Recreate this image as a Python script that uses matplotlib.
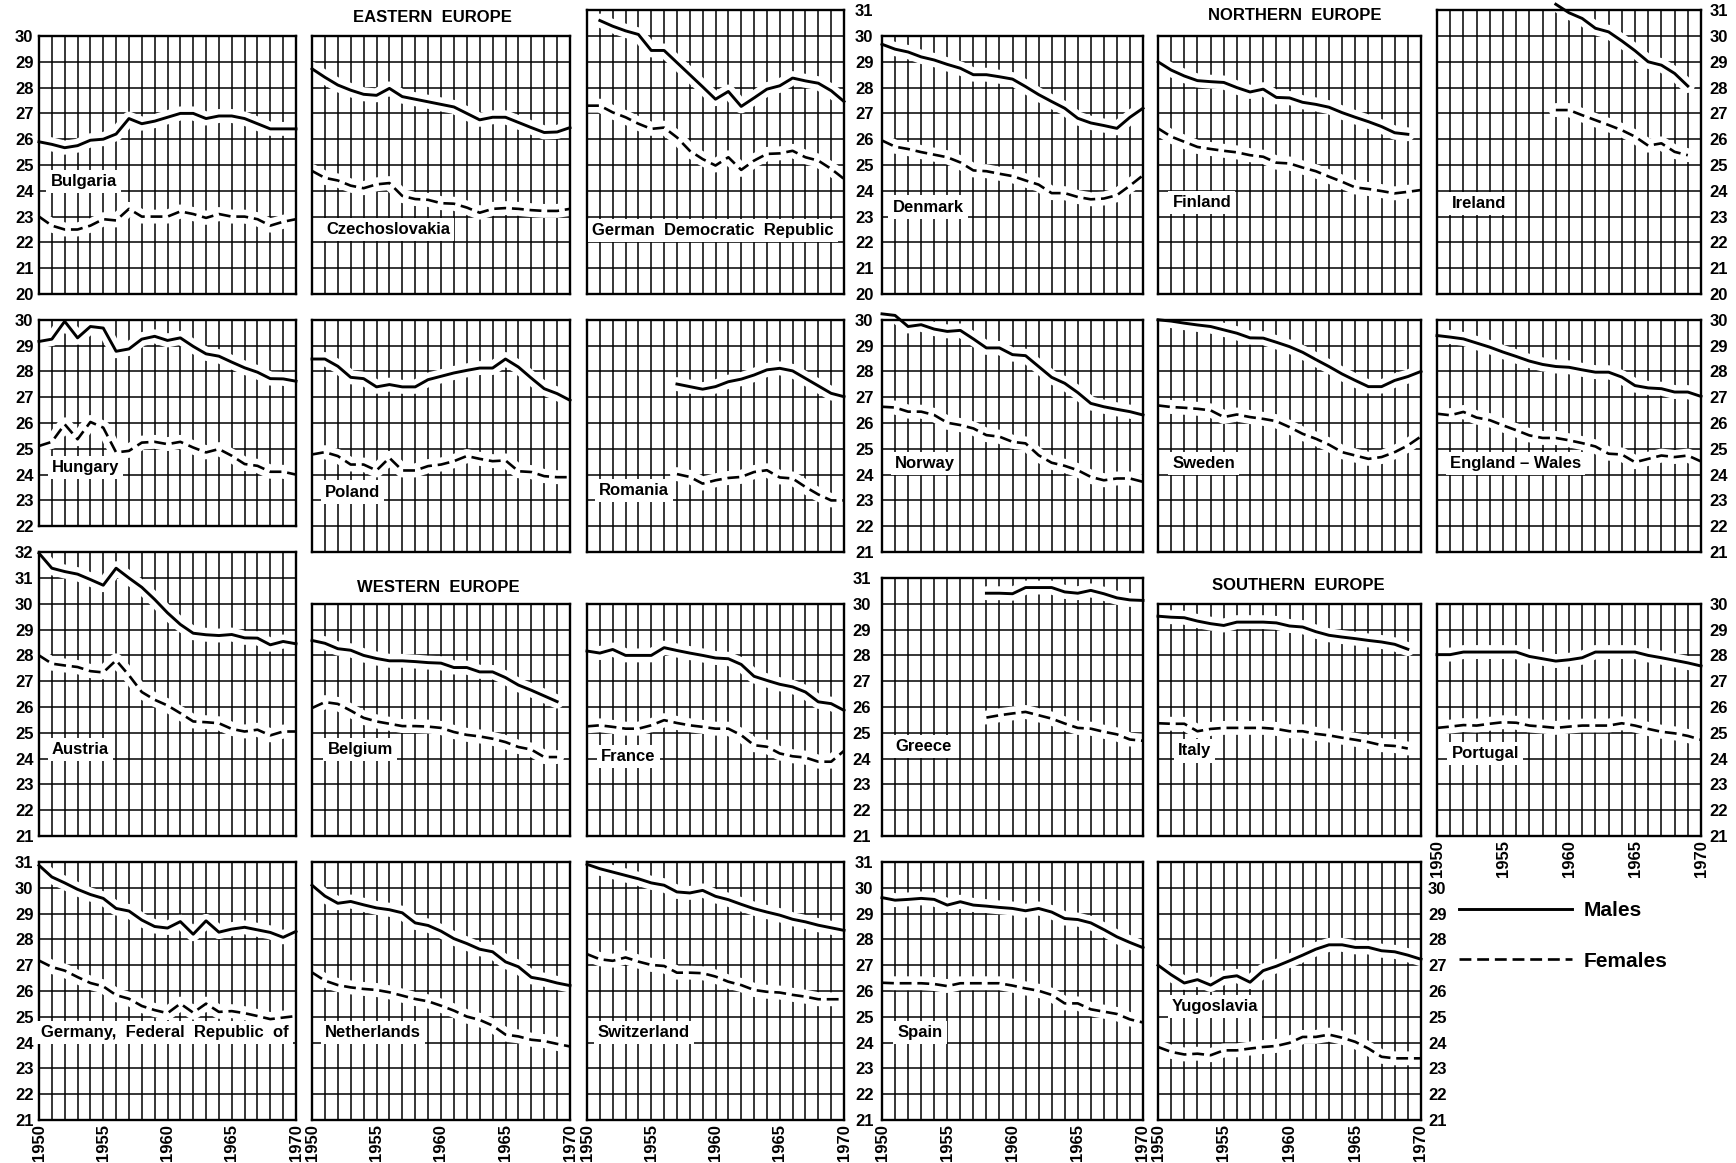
import matplotlib
matplotlib.use("Agg")
import matplotlib.pyplot as plt

plt.rcParams['font.family'] = ['Liberation Sans', 'DejaVu Sans']

nan = float('nan')

# ---------------------------------------------------------------- data
years = list(range(1950, 1971))
year_labels = ['1950', '1955', '1960', '1965', '1970']

bulgaria_m = [25.9, 25.8, 25.67, 25.75, 25.96, 26.0, 26.2, 26.8, 26.6, 26.7, 26.85, 27.0, 27.0, 26.8, 26.9, 26.9, 26.8, 26.6, 26.4, 26.4, 26.4]
bulgaria_f = [23.0, 22.65, 22.5, 22.5, 22.65, 22.9, 22.85, 23.3, 23.0, 23.0, 23.0, 23.2, 23.1, 22.95, 23.1, 23.0, 23.0, 22.9, 22.65, 22.8, 22.9]

czech_m = [28.73, 28.4, 28.1, 27.9, 27.74, 27.7, 27.97, 27.65, 27.55, 27.45, 27.35, 27.25, 27.0, 26.75, 26.85, 26.85, 26.65, 26.45, 26.26, 26.28, 26.45]
czech_f = [24.77, 24.5, 24.4, 24.2, 24.1, 24.25, 24.3, 23.8, 23.68, 23.65, 23.52, 23.5, 23.35, 23.15, 23.3, 23.33, 23.3, 23.25, 23.22, 23.22, 23.3]

gdr_m = [nan, 30.6, 30.38, 30.2, 30.06, 29.44, 29.44, 28.97, 28.5, 28.03, 27.55, 27.85, 27.27, 27.6, 27.94, 28.07, 28.37, 28.26, 28.17, 27.88, 27.46]
gdr_f = [27.3, 27.3, 27.04, 26.85, 26.6, 26.4, 26.45, 26.07, 25.55, 25.23, 24.98, 25.3, 24.81, 25.17, 25.43, 25.45, 25.55, 25.3, 25.17, 24.85, 24.46]

denmark_m = [29.68, 29.49, 29.38, 29.19, 29.07, 28.9, 28.75, 28.5, 28.5, 28.42, 28.33, 28.04, 27.73, 27.46, 27.2, 26.81, 26.63, 26.53, 26.42, 26.85, 27.2]
denmark_f = [25.95, 25.71, 25.62, 25.5, 25.4, 25.3, 25.1, 24.79, 24.76, 24.66, 24.57, 24.4, 24.24, 23.91, 23.91, 23.76, 23.67, 23.7, 23.83, 24.2, 24.6]

finland_m = [29.0, 28.68, 28.45, 28.27, 28.23, 28.2, 28.0, 27.83, 27.94, 27.62, 27.6, 27.43, 27.35, 27.24, 27.03, 26.85, 26.68, 26.49, 26.25, 26.19, nan]
finland_f = [26.42, 26.1, 25.9, 25.7, 25.62, 25.55, 25.49, 25.38, 25.32, 25.09, 25.06, 24.9, 24.76, 24.55, 24.35, 24.13, 24.07, 23.99, 23.9, 23.96, 24.03]

ireland_m = [nan, nan, nan, nan, nan, nan, nan, nan, nan, 31.23, 30.9, 30.68, 30.3, 30.16, 29.81, 29.43, 29.0, 28.87, 28.55, 28.06, nan]
ireland_f = [nan, nan, nan, nan, nan, nan, nan, nan, nan, 27.13, 27.13, 26.93, 26.74, 26.55, 26.35, 26.1, 25.75, 25.84, 25.51, 25.38, nan]

hungary_m = [29.16, 29.25, 29.94, 29.3, 29.74, 29.68, 28.78, 28.87, 29.25, 29.36, 29.2, 29.3, 28.97, 28.68, 28.59, 28.36, 28.14, 27.97, 27.72, 27.71, 27.62]
hungary_f = [25.11, 25.27, 25.95, 25.37, 26.04, 25.82, 24.86, 24.92, 25.24, 25.27, 25.18, 25.27, 25.05, 24.86, 24.99, 24.73, 24.41, 24.34, 24.11, 24.11, 24.0]

poland_m = [28.48, 28.48, 28.2, 27.77, 27.72, 27.4, 27.49, 27.4, 27.4, 27.68, 27.81, 27.94, 28.04, 28.13, 28.13, 28.48, 28.17, 27.74, 27.33, 27.14, 26.88]
poland_f = [24.78, 24.87, 24.72, 24.39, 24.39, 24.16, 24.65, 24.16, 24.16, 24.33, 24.39, 24.52, 24.72, 24.61, 24.52, 24.55, 24.13, 24.1, 23.94, 23.9, 23.9]

romania_m = [nan, nan, nan, nan, nan, nan, nan, 27.51, 27.41, 27.31, 27.41, 27.6, 27.7, 27.86, 28.06, 28.12, 28.02, 27.73, 27.44, 27.15, 27.02]
romania_f = [nan, nan, nan, nan, nan, nan, nan, 24.02, 23.91, 23.65, 23.78, 23.87, 23.91, 24.1, 24.17, 23.89, 23.85, 23.52, 23.23, 23.0, 23.0]

norway_m = [30.23, 30.17, 29.74, 29.81, 29.64, 29.55, 29.59, 29.26, 28.91, 28.91, 28.65, 28.61, 28.19, 27.77, 27.54, 27.18, 26.76, 26.63, 26.53, 26.44, 26.31]
norway_f = [26.63, 26.6, 26.44, 26.44, 26.31, 26.01, 25.92, 25.79, 25.53, 25.47, 25.27, 25.21, 24.75, 24.46, 24.34, 24.17, 23.91, 23.78, 23.85, 23.85, 23.72]

sweden_m = [30.0, 29.95, 29.87, 29.8, 29.74, 29.61, 29.48, 29.3, 29.29, 29.13, 28.96, 28.74, 28.46, 28.19, 27.9, 27.65, 27.41, 27.41, 27.65, 27.8, 28.0]
sweden_f = [26.68, 26.62, 26.59, 26.55, 26.49, 26.23, 26.33, 26.23, 26.16, 26.07, 25.84, 25.58, 25.39, 25.16, 24.87, 24.74, 24.61, 24.68, 24.87, 25.13, 25.48]

england_m = [29.39, 29.33, 29.26, 29.1, 28.94, 28.75, 28.58, 28.4, 28.27, 28.19, 28.16, 28.06, 27.97, 27.97, 27.78, 27.45, 27.36, 27.33, 27.2, 27.2, 27.03]
england_f = [26.36, 26.3, 26.43, 26.21, 26.11, 25.91, 25.72, 25.52, 25.42, 25.42, 25.33, 25.22, 25.09, 24.81, 24.78, 24.48, 24.61, 24.74, 24.68, 24.74, 24.51]

austria_m = [31.96, 31.38, 31.25, 31.15, 30.94, 30.72, 31.38, 31.0, 30.64, 30.17, 29.65, 29.2, 28.86, 28.8, 28.77, 28.81, 28.68, 28.67, 28.41, 28.54, 28.45]
austria_f = [28.0, 27.68, 27.61, 27.55, 27.39, 27.34, 27.81, 27.23, 26.58, 26.28, 26.06, 25.76, 25.44, 25.41, 25.37, 25.15, 25.05, 25.12, 24.9, 25.05, 25.05]

belgium_m = [28.58, 28.47, 28.26, 28.2, 28.0, 27.88, 27.79, 27.79, 27.76, 27.72, 27.7, 27.53, 27.53, 27.36, 27.36, 27.14, 26.85, 26.65, 26.43, 26.21, nan]
belgium_f = [25.96, 26.19, 26.12, 25.86, 25.58, 25.44, 25.35, 25.26, 25.26, 25.24, 25.19, 25.03, 24.92, 24.86, 24.77, 24.64, 24.45, 24.35, 24.06, 24.06, nan]

france_m = [28.17, 28.09, 28.23, 28.0, 28.0, 28.0, 28.3, 28.19, 28.09, 28.0, 27.9, 27.87, 27.65, 27.19, 27.03, 26.88, 26.78, 26.58, 26.2, 26.13, 25.87]
france_f = [25.25, 25.29, 25.23, 25.16, 25.16, 25.29, 25.49, 25.38, 25.29, 25.23, 25.16, 25.16, 24.91, 24.52, 24.46, 24.2, 24.09, 24.04, 23.88, 23.88, 24.3]

greece_m = [nan, nan, nan, nan, nan, nan, nan, nan, 30.41, 30.41, 30.39, 30.63, 30.63, 30.63, 30.46, 30.41, 30.52, 30.39, 30.23, 30.15, 30.13]
greece_f = [nan, nan, nan, nan, nan, nan, nan, nan, 25.59, 25.68, 25.75, 25.81, 25.68, 25.55, 25.36, 25.19, 25.16, 25.04, 24.94, 24.74, 24.69]

italy_m = [29.52, 29.48, 29.46, 29.33, 29.23, 29.16, 29.29, 29.29, 29.29, 29.26, 29.14, 29.1, 28.92, 28.78, 28.71, 28.65, 28.58, 28.52, 28.43, 28.24, nan]
italy_f = [25.37, 25.35, 25.35, 25.06, 25.15, 25.19, 25.19, 25.19, 25.19, 25.15, 25.06, 25.06, 24.96, 24.9, 24.81, 24.73, 24.64, 24.52, 24.49, 24.39, nan]

portugal_m = [28.03, 28.03, 28.13, 28.13, 28.13, 28.13, 28.13, 27.96, 27.87, 27.78, 27.83, 27.91, 28.13, 28.13, 28.13, 28.13, 28.0, 27.91, 27.81, 27.71, 27.59]
portugal_f = [25.19, 25.24, 25.3, 25.28, 25.35, 25.41, 25.39, 25.28, 25.24, 25.19, 25.24, 25.28, 25.28, 25.28, 25.37, 25.28, 25.15, 25.04, 24.98, 24.88, 24.73]

germany_m = [30.87, 30.42, 30.19, 29.94, 29.74, 29.59, 29.2, 29.1, 28.75, 28.5, 28.44, 28.69, 28.2, 28.72, 28.28, 28.4, 28.47, 28.37, 28.27, 28.08, 28.31]
germany_f = [27.18, 26.93, 26.79, 26.54, 26.31, 26.18, 25.84, 25.7, 25.42, 25.26, 25.14, 25.51, 25.16, 25.51, 25.19, 25.22, 25.14, 25.03, 24.91, 24.97, 25.03]

netherlands_m = [30.1, 29.68, 29.4, 29.47, 29.34, 29.22, 29.15, 29.03, 28.64, 28.54, 28.32, 28.03, 27.84, 27.62, 27.52, 27.13, 26.94, 26.53, 26.44, 26.31, 26.21]
netherlands_f = [26.72, 26.4, 26.23, 26.14, 26.08, 26.04, 25.95, 25.82, 25.69, 25.6, 25.43, 25.24, 25.01, 24.88, 24.66, 24.31, 24.24, 24.11, 24.06, 23.95, 23.85]

switzerland_m = [30.91, 30.74, 30.61, 30.48, 30.35, 30.19, 30.1, 29.84, 29.8, 29.9, 29.67, 29.54, 29.36, 29.19, 29.06, 28.94, 28.78, 28.68, 28.55, 28.45, 28.35]
switzerland_f = [27.43, 27.23, 27.17, 27.3, 27.14, 27.01, 26.97, 26.71, 26.71, 26.69, 26.56, 26.36, 26.23, 26.04, 25.97, 25.94, 25.85, 25.78, 25.68, 25.68, 25.68]

spain_m = [29.62, 29.52, 29.55, 29.59, 29.55, 29.33, 29.46, 29.33, 29.29, 29.24, 29.2, 29.11, 29.2, 29.06, 28.81, 28.77, 28.64, 28.38, 28.1, 27.88, 27.68]
spain_f = [26.32, 26.3, 26.3, 26.3, 26.27, 26.19, 26.3, 26.3, 26.3, 26.3, 26.21, 26.1, 26.01, 25.85, 25.52, 25.52, 25.29, 25.2, 25.11, 24.9, 24.78]

yugoslavia_m = [27.0, 26.63, 26.31, 26.44, 26.23, 26.52, 26.59, 26.34, 26.79, 26.96, 27.17, 27.39, 27.62, 27.79, 27.79, 27.69, 27.69, 27.56, 27.52, 27.39, 27.23]
yugoslavia_f = [23.83, 23.64, 23.54, 23.57, 23.51, 23.7, 23.7, 23.77, 23.83, 23.87, 23.99, 24.22, 24.22, 24.31, 24.19, 24.03, 23.77, 23.45, 23.39, 23.39, 23.39]

# ---------------------------------------------------------------- layout
W, H = 1736, 1163
fig = plt.figure(figsize=(W / 100, H / 100), dpi=100)

col_edges = [(39, 296), (312, 570), (587, 844), (882, 1143), (1158, 1421), (1437, 1701)]
# pixel row of a reference value in each row of panels (same scale everywhere)
row_ref = [(20, 294), (21, 552), (21, 836), (21, 1120)]
unit_px = 25.8

# label, males, females, row, col, ymin, ymax, label anchor (year, value)
panels = [
    ("Bulgaria", bulgaria_m, bulgaria_f, 0, 0, 20, 30, 1950.9, 24.35),
    ("Czechoslovakia", czech_m, czech_f, 0, 1, 20, 30, 1951.1, 22.5),
    ("German  Democratic  Republic", gdr_m, gdr_f, 0, 2, 20, 31, 1950.4, 22.47),
    ("Denmark", denmark_m, denmark_f, 0, 3, 20, 30, 1950.8, 23.37),
    ("Finland", finland_m, finland_f, 0, 4, 20, 30, 1951.1, 23.54),
    ("Ireland", ireland_m, ireland_f, 0, 5, 20, 31, 1951.1, 23.51),
    ("Hungary", hungary_m, hungary_f, 1, 0, 22, 30, 1951.0, 24.28),
    ("Poland", poland_m, poland_f, 1, 1, 21, 30, 1951.0, 23.32),
    ("Romania", romania_m, romania_f, 1, 2, 21, 30, 1950.95, 23.39),
    ("Norway", norway_m, norway_f, 1, 3, 21, 30, 1951.0, 24.43),
    ("Sweden", sweden_m, sweden_f, 1, 4, 21, 30, 1951.1, 24.42),
    ("England \u2013 Wales", england_m, england_f, 1, 5, 21, 30, 1951.0, 24.42),
    ("Austria", austria_m, austria_f, 2, 0, 21, 32, 1951.0, 24.35),
    ("Belgium", belgium_m, belgium_f, 2, 1, 21, 30, 1951.2, 24.36),
    ("France", france_m, france_f, 2, 2, 21, 30, 1951.1, 24.07),
    ("Greece", greece_m, greece_f, 2, 3, 21, 31, 1951.0, 24.48),
    ("Italy", italy_m, italy_f, 2, 4, 21, 30, 1951.5, 24.3),
    ("Portugal", portugal_m, portugal_f, 2, 5, 21, 30, 1951.1, 24.2),
    ("Germany,  Federal  Republic  of", germany_m, germany_f, 3, 0, 21, 31, 1950.15, 24.38),
    ("Netherlands", netherlands_m, netherlands_f, 3, 1, 21, 31, 1951.0, 24.38),
    ("Switzerland", switzerland_m, switzerland_f, 3, 2, 21, 31, 1950.85, 24.38),
    ("Spain", spain_m, spain_f, 3, 3, 21, 31, 1951.2, 24.38),
    ("Yugoslavia", yugoslavia_m, yugoslavia_f, 3, 4, 21, 31, 1951.05, 25.41),
]

# which panels carry the value scale: (row, col) -> (side, pad)
y_scale = {
    (0, 0): ("left", 4), (1, 0): ("left", 4), (2, 0): ("left", 4), (3, 0): ("left", 4),
    (0, 2): ("right", 8), (1, 2): ("right", 8), (2, 3): ("left", 8), (3, 2): ("right", 8),
    (0, 5): ("right", 6), (1, 5): ("right", 6), (2, 5): ("right", 6), (3, 4): ("right", 5),
}
x_scale = {(3, 0), (3, 1), (3, 2), (3, 3), (3, 4), (2, 5)}

tick_font = dict(fontsize=12, fontweight="bold")
handles = None

for label, males, females, row, col, ymin, ymax, lx, ly in panels:
    x0, x1 = col_edges[col]
    ref_val, ref_px = row_ref[row]
    bottom_px = ref_px - (ymin - ref_val) * unit_px
    top_px = ref_px - (ymax - ref_val) * unit_px
    ax = fig.add_axes([x0 / W, 1 - bottom_px / H, (x1 - x0) / W, (bottom_px - top_px) / H])

    ax.set_xlim(1950, 1970)
    ax.set_ylim(ymin, ymax)
    ax.set_axisbelow(True)
    ax.grid(True, color="black", lw=1.1)
    for sp in ax.spines.values():
        sp.set_linewidth(1.7)
    ax.tick_params(length=0)

    yt = list(range(ymin, ymax + 1))
    if (row, col) in y_scale:
        side, pad = y_scale[(row, col)]
        ax.yaxis.set_ticks_position(side)
        ax.tick_params(axis="y", pad=pad, labelleft=(side == "left"),
                       labelright=(side == "right"))
        if (row, col) == (3, 4):
            ylabels = [str(v) if v < ymax else "" for v in yt]
        else:
            ylabels = [str(v) for v in yt]
        ax.set_yticks(yt, ylabels, **tick_font)
    else:
        ax.set_yticks(yt, [""] * len(yt))

    if (row, col) in x_scale:
        ax.set_xticks(years, [str(y) if str(y) in year_labels else "" for y in years],
                      rotation=90, **tick_font)
        ax.tick_params(axis="x", pad=3)
    else:
        ax.set_xticks(years, [""] * len(years))

    # white clearing under each curve, then the curves
    ax.plot(years, males, color="white", lw=10, zorder=1.5, solid_capstyle="round")
    ax.plot(years, females, color="white", lw=10, zorder=1.5, solid_capstyle="round")
    lm, = ax.plot(years, males, color="black", lw=2.1, zorder=3, clip_on=False,
                  label="Males")
    lf, = ax.plot(years, females, color="black", lw=1.9, ls=(0, (4.5, 2.2)), zorder=3,
                  clip_on=False, label="Females")
    handles = [lm, lf]

    ax.text(lx, ly, label, fontsize=12, fontweight="bold", ha="left", va="center",
            zorder=4, bbox=dict(facecolor="white", edgecolor="none", pad=3))

# region headings
for txt, xc, yc in [("EASTERN  EUROPE", 432, 17), ("NORTHERN  EUROPE", 1295, 16),
                    ("WESTERN  EUROPE", 438, 588), ("SOUTHERN  EUROPE", 1298, 585)]:
    fig.text(xc / W, 1 - yc / H, txt, ha="center", va="center", fontsize=12,
             fontweight="bold")

fig.legend(handles=handles, labels=["Males", "Females"], loc="center left",
           bbox_to_anchor=(1459 / W, 1 - 936 / H), frameon=False,
           prop=dict(size=15, weight="bold"),
           handlelength=5.4, handletextpad=0.6, labelspacing=1.5,
           borderpad=0, borderaxespad=0)

fig.savefig("out.png", dpi=100, facecolor="white")
